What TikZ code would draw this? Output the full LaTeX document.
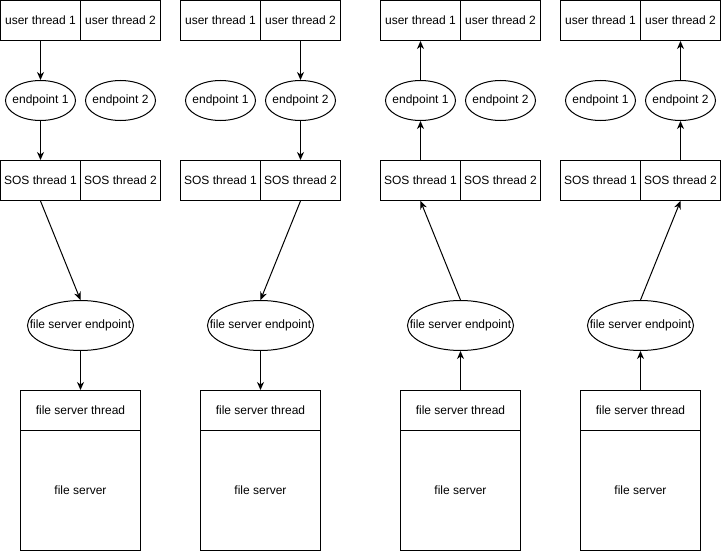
\documentclass[tikz,border=0pt]{standalone}
\usepackage{fontspec}
\setmainfont{Liberation Sans}
\usetikzlibrary{shapes.geometric,arrows.meta}
\begin{document}
\begin{tikzpicture}[x=1pt,y=-1pt,
  font=\fontsize{12}{14}\selectfont,
  every path/.style={line width=1pt},
  cell/.style={draw,line width=1pt,minimum width=80pt,minimum height=40pt,inner sep=0pt},
  ep/.style={draw,line width=1pt,ellipse,minimum width=70pt,minimum height=40pt,inner sep=0pt},
  fse/.style={draw,line width=1pt,ellipse,minimum width=106pt,minimum height=50pt,inner sep=0pt},
  fsbox/.style={draw,line width=1pt,minimum width=120pt,inner sep=0pt},
  arr/.style={-{Stealth[length=8pt,width=7pt,inset=2.5pt]},line width=1pt}]
\useasboundingbox (0,0) rectangle (721,551);
\foreach \c/\ox in {a/0,b/180,c/380,d/560}{
  \node[cell] (\c u1) at (\ox+40.5,20.5) {user thread 1};
  \node[cell] (\c u2) at (\ox+120.5,20.5) {user thread 2};
  \node[ep,label={center:endpoint 1}] (\c e1) at (\ox+40.5,100.5) {};
  \node[ep,label={center:endpoint 2}] (\c e2) at (\ox+120.5,100.5) {};
  \node[cell] (\c s1) at (\ox+40.5,180.5) {SOS thread 1};
  \node[cell] (\c s2) at (\ox+120.5,180.5) {SOS thread 2};
  \node[fse,label={center:file server endpoint}] (\c f) at (\ox+80.5,325.5) {};
  \node[fsbox,minimum height=40pt] (\c t) at (\ox+80.5,410.5) {file server thread};
  \node[fsbox,minimum height=120pt] (\c s) at (\ox+80.5,490.5) {file server};
}
% column 1
\draw[arr] (au1) -- (ae1);
\draw[arr] (ae1) -- (as1);
\draw[arr] (as1.south) -- (af.north);
\draw[arr] (af) -- (at);
% column 2
\draw[arr] (bu2) -- (be2);
\draw[arr] (be2) -- (bs2);
\draw[arr] (bs2.south) -- (bf.north);
\draw[arr] (bf) -- (bt);
% column 3
\draw[arr] (ct) -- (cf);
\draw[arr] (cf.north) -- (cs1.south);
\draw[arr] (cs1) -- (ce1);
\draw[arr] (ce1) -- (cu1);
% column 4
\draw[arr] (dt) -- (df);
\draw[arr] (df.north) -- (ds2.south);
\draw[arr] (ds2) -- (de2);
\draw[arr] (de2) -- (du2);
\end{tikzpicture}
\end{document}
